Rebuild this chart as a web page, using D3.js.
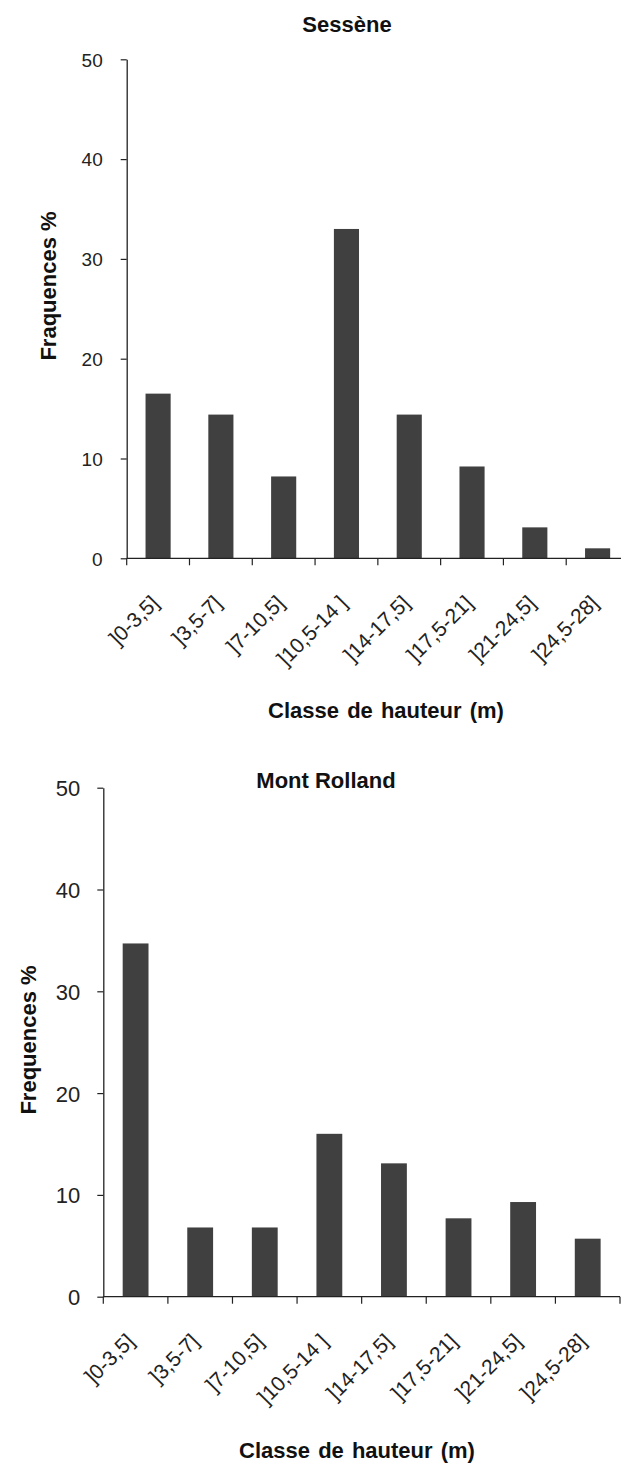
<!DOCTYPE html>
<html>
<head>
<meta charset="utf-8">
<script src="https://cdn.jsdelivr.net/npm/d3@7"></script>
<style>
  html, body { margin: 0; padding: 0; background: #fff; }
  svg { display: block; }
</style>
</head>
<body>
<script>
// ---- Data ----
const categories = ["]0-3,5]", "]3,5-7]", "]7-10,5]", "]10,5-14 ]", "]14-17,5]", "]17,5-21]", "]21-24,5]", "]24,5-28]"];
const sesseneValues = [16.5, 14.4, 8.2, 33.0, 14.4, 9.2, 3.1, 1.0];
const montRollandValues = [34.7, 6.8, 6.8, 16.0, 13.1, 7.7, 9.3, 5.7];
const yTicks = [0, 10, 20, 30, 40, 50];
const titles = ["Sessène", "Mont Rolland"];
const yTitles = ["Fraquences %", "Frequences %"];
const xTitle = "Classe de hauteur (m)";

const W = 621, H = 1468;
const svg = d3.select("body").append("svg").attr("width", W).attr("height", H);

function drawChart(cfg) {
  const g = svg.append("g");
  const x = d3.scaleBand().domain(categories).range([cfg.x0, cfg.x1]).paddingInner(0.6).paddingOuter(0.3);
  const y = d3.scaleLinear().domain([0, 50]).range([cfg.yBottom, cfg.yTop]);

  // bars
  g.selectAll("rect.bar").data(categories.map((c, i) => ({c, v: cfg.values[i]})))
    .enter().append("rect").attr("class", "bar")
    .attr("x", d => x(d.c)).attr("width", x.bandwidth())
    .attr("y", d => y(d.v)).attr("height", d => y(0) - y(d.v))
    .attr("fill", "#404040");

  // y axis
  const yAxis = d3.axisLeft(y).tickValues(yTicks).tickSize(6).tickSizeOuter(0).tickPadding(cfg.yPad);
  const ya = g.append("g").attr("transform", `translate(${cfg.x0},0)`).call(yAxis);
  ya.select(".domain").attr("stroke", "#222").attr("stroke-width", 1.3);
  ya.selectAll(".tick line").attr("stroke", "#222").attr("stroke-width", 1.2);
  ya.selectAll(".tick text").attr("font-family", cfg.tickFont).attr("font-size", cfg.yTickSize)
    .attr("fill", "#222").attr("dy", "0.36em");

  // x axis line + boundary ticks
  const step = x.step();
  const bounds = categories.map(c => x(c) - step * 0.3).concat([x(categories[categories.length - 1]) + x.bandwidth() + step * 0.3]);
  g.append("line").attr("x1", cfg.x0).attr("x2", cfg.x1).attr("y1", y(0)).attr("y2", y(0))
    .attr("stroke", "#222").attr("stroke-width", 1.3);
  g.selectAll("line.xt").data(bounds).enter().append("line").attr("class", "xt")
    .attr("x1", d => d).attr("x2", d => d).attr("y1", y(0)).attr("y2", y(0) + 7)
    .attr("stroke", "#222").attr("stroke-width", 1.2);

  // x tick labels
  g.selectAll("text.xl").data(categories).enter().append("text").attr("class", "xl")
    .attr("transform", d => `translate(${x(d) + x.bandwidth() / 2 + cfg.lblDx},${y(0) + cfg.lblDy}) rotate(${cfg.lblAngle})`)
    .attr("text-anchor", "end")
    .attr("font-family", cfg.tickFont).attr("font-size", cfg.xTickSize).attr("fill", "#222")
    .text(d => d);

  // titles
  g.append("text").attr("x", cfg.titleX).attr("y", cfg.titleY).attr("text-anchor", "middle")
    .attr("font-family", "Liberation Sans, Arial, sans-serif").attr("font-weight", "bold")
    .attr("font-size", 22).attr("fill", "#111").text(cfg.title);
  g.append("text").attr("x", cfg.xTitleX).attr("y", cfg.xTitleY).attr("text-anchor", "middle")
    .attr("font-family", "Liberation Sans, Arial, sans-serif").attr("font-weight", "bold")
    .attr("font-size", 22).attr("fill", "#111").attr("word-spacing", 2).text(xTitle);
  g.append("text").attr("transform", `translate(${cfg.yTitleX},${cfg.yTitleY}) rotate(-90)`)
    .attr("text-anchor", "middle")
    .attr("font-family", "Liberation Sans, Arial, sans-serif").attr("font-weight", "bold")
    .attr("font-size", 22).attr("fill", "#111").text(cfg.yTitle);
}

drawChart({
  values: sesseneValues, title: titles[0], yTitle: yTitles[0],
  x0: 126.7, x1: 629, yBottom: 558.3, yTop: 59.3,
  yPad: 18, tickFont: "Liberation Sans, Arial, sans-serif", yTickSize: 19, xTickSize: 21,
  lblDx: 2, lblDy: 46, lblAngle: -45,
  titleX: 347, titleY: 32, xTitleX: 386, xTitleY: 718, yTitleX: 56, yTitleY: 286
});

drawChart({
  values: montRollandValues, title: titles[1], yTitle: yTitles[1],
  x0: 103.3, x1: 620, yBottom: 1296.7, yTop: 787.7,
  yPad: 17, tickFont: "Liberation Sans Narrow, Liberation Sans, Arial, sans-serif", yTickSize: 22, xTickSize: 21,
  lblDx: 0, lblDy: 46, lblAngle: -45,
  titleX: 326, titleY: 788, xTitleX: 357, xTitleY: 1458, yTitleX: 36, yTitleY: 1040
});
</script>
</body>
</html>
